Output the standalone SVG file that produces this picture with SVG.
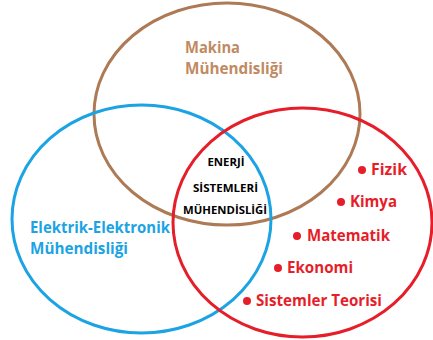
<svg xmlns="http://www.w3.org/2000/svg" width="433" height="340" viewBox="0 0 433 340">
<style>
.c{fill:none;stroke-width:3}
.t{font-family:"Open Sans","Noto Sans",sans-serif;font-weight:bold}
.br{fill:#C08A62;font-size:15.5px}
.bl{fill:#1BA3E3;font-size:15.5px}
.rd{fill:#E61E2A;font-size:15.5px}
.bk{fill:#000;font-size:10.5px;text-anchor:middle}
.dot{fill:#E61E2A}
</style>
<rect width="433" height="340" fill="#fff"/>
<g id="makina">
<ellipse class="c" cx="227" cy="114" rx="133" ry="111" stroke="#AD7A55"/>
<text class="t br" x="185" y="53" textLength="55" lengthAdjust="spacingAndGlyphs">Makina</text>
<text class="t br" x="185" y="74" textLength="98" lengthAdjust="spacingAndGlyphs">Mühendisliği</text>
</g>
<g id="elektrik">
<ellipse class="c" cx="141.5" cy="219" rx="129.5" ry="114" stroke="#1BA3E3"/>
<text class="t bl" x="30" y="233" textLength="140" lengthAdjust="spacingAndGlyphs">Elektrik-Elektronik</text>
<text class="t bl" x="30" y="254" textLength="98" lengthAdjust="spacingAndGlyphs">Mühendisliği</text>
</g>
<g id="sistemler">
<ellipse class="c" cx="302.5" cy="222.5" rx="129.5" ry="114.5" stroke="#E61E2A"/>
<circle class="dot" cx="362" cy="170" r="4"/>
<text class="t rd" x="371" y="175" textLength="36" lengthAdjust="spacingAndGlyphs">Fizik</text>
<circle class="dot" cx="341" cy="202" r="4"/>
<text class="t rd" x="350" y="207" textLength="47" lengthAdjust="spacingAndGlyphs">Kimya</text>
<circle class="dot" cx="297" cy="236" r="4"/>
<text class="t rd" x="307" y="241" textLength="83" lengthAdjust="spacingAndGlyphs">Matematik</text>
<circle class="dot" cx="278" cy="268" r="4"/>
<text class="t rd" x="287" y="273" textLength="66" lengthAdjust="spacingAndGlyphs">Ekonomi</text>
<circle class="dot" cx="247" cy="301" r="4"/>
<text class="t rd" x="256" y="306" textLength="126" lengthAdjust="spacingAndGlyphs">Sistemler Teorisi</text>
</g>
<g id="enerji">
<text class="t bk" x="226" y="166" textLength="37" lengthAdjust="spacingAndGlyphs">ENERJİ</text>
<text class="t bk" x="225.5" y="192" textLength="65" lengthAdjust="spacingAndGlyphs">SİSTEMLERİ</text>
<text class="t bk" x="225" y="214" textLength="84" lengthAdjust="spacingAndGlyphs">MÜHENDİSLİĞİ</text>
</g>
<g id="connectors"/>
</svg>
